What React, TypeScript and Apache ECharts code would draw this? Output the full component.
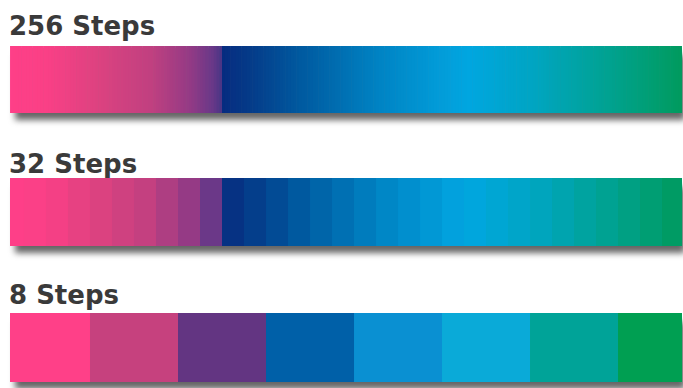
import React, { useEffect, useRef } from "react";
import * as echarts from "echarts";

// Titles and number of steps of each bar
const TITLES = ["256 Steps", "32 Steps", "8 Steps"];
const STEP_COUNTS = [256, 32, 8];

// Continuous palette used by the 256 and 32 step bars (position in 8-block units, colour)
const GRADIENT_POS = [0, 0.5, 1.1, 1.7, 2.15, 2.4, 2.49, 2.51, 2.8, 3.4, 4.3, 5.1, 5.3, 6.0, 6.7, 7.3, 7.75, 8];
const GRADIENT_COL = [
  "#ff3f88", "#fa4086", "#dc4280", "#c04080", "#923a85", "#673888", "#4a3585",
  "#062c80", "#053a88", "#005aa0", "#0084c4", "#02a0dc", "#00a6e0", "#00a5c4",
  "#00a39c", "#009f78", "#009a5c", "#009858",
];

// Palette of the 8 step bar
const EIGHT_COLORS = ["#ff4088", "#c6417e", "#633582", "#0060a8", "#0a90d2", "#0aaad8", "#00a398", "#009f52"];

const TOTAL = 8; // gradient span in block units
const VIEW_MIN = 0.091;
const VIEW_MAX = 7.727;

function hexToRgb(h: string) {
  const n = parseInt(h.slice(1), 16);
  return [(n >> 16) & 255, (n >> 8) & 255, n & 255];
}
function sampleGradient(u: number) {
  for (let k = 0; k < GRADIENT_POS.length - 1; k++) {
    const a = GRADIENT_POS[k];
    const b = GRADIENT_POS[k + 1];
    if (u >= a && u <= b) {
      const t = (u - a) / (b - a);
      const c0 = hexToRgb(GRADIENT_COL[k]);
      const c1 = hexToRgb(GRADIENT_COL[k + 1]);
      const c = c0.map((v, j) => Math.round(v + (c1[j] - v) * t));
      return `rgb(${c[0]},${c[1]},${c[2]})`;
    }
  }
  return GRADIENT_COL[GRADIENT_COL.length - 1];
}

const GRID_TOPS = [46, 178, 313];
const GRID_HEIGHTS = [67, 68, 69];
const TITLE_Y = [26, 164, 295];

export default function App() {
  const ref = useRef<HTMLDivElement>(null);
  useEffect(() => {
    document.body.style.margin = "0";
    if (!ref.current) return;
    const chart = echarts.init(ref.current, null, { renderer: "svg" });

    const grids: any[] = [];
    const xAxes: any[] = [];
    const yAxes: any[] = [];
    const series: any[] = [];

    STEP_COUNTS.forEach((n, gi) => {
      grids.push({ left: 10, right: 1, top: GRID_TOPS[gi], height: GRID_HEIGHTS[gi] });
      xAxes.push({ type: "value", gridIndex: gi, min: VIEW_MIN, max: VIEW_MAX, show: false });
      yAxes.push({ type: "value", gridIndex: gi, min: 0, max: 1, show: false });
      // shadow under bar
      series.push({
        type: "custom",
        xAxisIndex: gi,
        yAxisIndex: gi,
        z: 1,
        silent: true,
        data: [[0]],
        renderItem: (params: any) => {
          const cs = params.coordSys;
          return {
            type: "rect",
            shape: { x: cs.x + 2, y: cs.y + 2, width: cs.width - 2, height: cs.height - 2 },
            style: {
              fill: "#888888",
              shadowBlur: 6,
              shadowColor: "rgba(0,0,0,0.6)",
              shadowOffsetX: 3,
              shadowOffsetY: 7,
            },
          };
        },
      });
      const w = TOTAL / n;
      const data = Array.from({ length: n }, (_, i) => [i]);
      series.push({
        type: "custom",
        xAxisIndex: gi,
        yAxisIndex: gi,
        z: 2,
        silent: true,
        data,
        renderItem: (params: any, api: any) => {
          const i = api.value(0);
          const p0 = api.coord([i * w, 1]);
          const p1 = api.coord([(i + 1) * w, 0]);
          const rect = echarts.graphic.clipRectByRect(
            { x: p0[0], y: p0[1], width: p1[0] - p0[0] + 0.6, height: p1[1] - p0[1] },
            params.coordSys
          );
          if (!rect) return null;
          const color = n === 8 ? EIGHT_COLORS[i] : sampleGradient((i + 0.5) * w);
          return { type: "rect", shape: rect, style: { fill: color } };
        },
      });
    });

    chart.setOption({
      animation: false,
      backgroundColor: "#ffffff",
      grid: grids,
      xAxis: xAxes,
      yAxis: yAxes,
      series,
      graphic: TITLES.map((t, i) => ({
        type: "text",
        left: 9,
        top: TITLE_Y[i] - 13,
        style: {
          text: t,
          fill: "#3a3a3a",
          font: 'bold 26px "DejaVu Sans"',
        },
      })),
    });
    return () => chart.dispose();
  }, []);
  return <div ref={ref} style={{ width: 683, height: 388 }} />;
}
